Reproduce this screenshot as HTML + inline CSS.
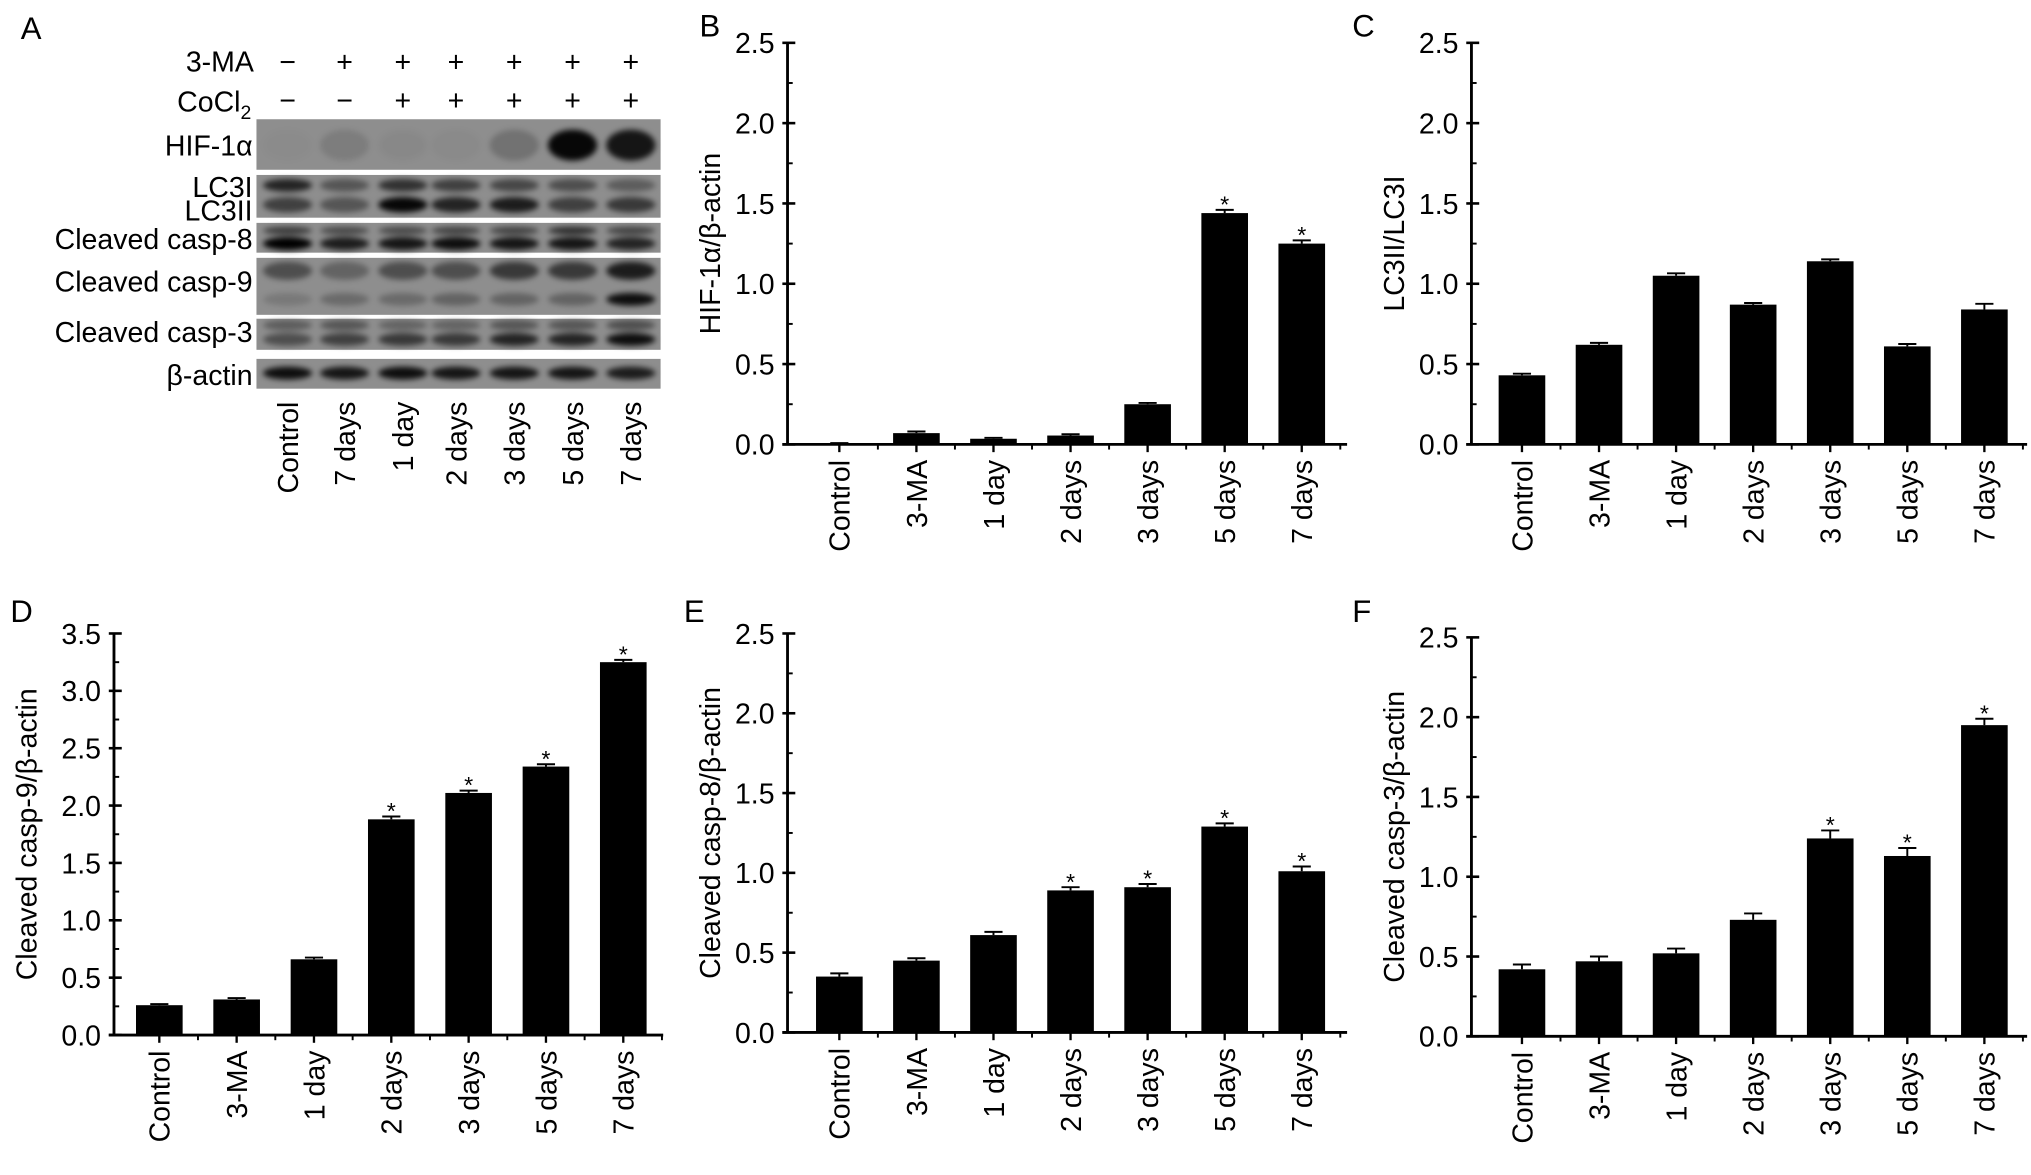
<!DOCTYPE html>
<html><head><meta charset="utf-8"><style>
html,body{margin:0;padding:0;background:#fff;}
svg{display:block;font-family:"Liberation Sans",Arial,sans-serif;}
</style></head><body>
<svg id="fig" width="2031" height="1175" viewBox="0 0 1568 907" xmlns="http://www.w3.org/2000/svg">
<defs><filter id="blur" x="-20%" y="-50%" width="140%" height="200%"><feGaussianBlur stdDeviation="2.2"/></filter></defs>
<g id="panelA"></g>
<g id="charts"></g>
</svg>
<script>
const categories = ["Control","3-MA","1 day","2 days","3 days","5 days","7 days"];
const valuesB = [0.005,0.07,0.035,0.055,0.25,1.44,1.25];
const errB = [0.003,0.01,0.006,0.008,0.008,0.02,0.02];
const starsB = [0,0,0,0,0,1,1];
const valuesC = [0.43,0.62,1.05,0.87,1.14,0.61,0.84];
const errC = [0.01,0.012,0.015,0.01,0.012,0.015,0.035];
const starsC = [0,0,0,0,0,0,0];
const valuesD = [0.26,0.31,0.66,1.88,2.11,2.34,3.25];
const errD = [0.01,0.012,0.015,0.025,0.02,0.02,0.02];
const starsD = [0,0,0,1,1,1,1];
const valuesE = [0.35,0.45,0.61,0.89,0.91,1.29,1.01];
const errE = [0.02,0.015,0.02,0.02,0.02,0.02,0.03];
const starsE = [0,0,0,1,1,1,1];
const valuesF = [0.42,0.47,0.52,0.73,1.24,1.13,1.95];
const errF = [0.03,0.03,0.03,0.04,0.05,0.05,0.04];
const starsF = [0,0,0,0,1,1,1];
const ticks25 = ["0.0","0.5","1.0","1.5","2.0","2.5"];
const ticks35 = ["0.0","0.5","1.0","1.5","2.0","2.5","3.0","3.5"];

const NS="http://www.w3.org/2000/svg";
function mk(tag,attrs,parent,txt){const e=document.createElementNS(NS,tag);for(const k in attrs)e.setAttribute(k,attrs[k]);if(txt!==undefined)e.textContent=txt;parent.appendChild(e);return e;}

const charts=document.getElementById('charts');
const panels=[
 {id:'b',letter:'B',lx:540,ly:28,ax:608,top:33,bot:343,right:1040,first:648,step:59.5,ymax:2.5,ticks:ticks25,vals:valuesB,err:errB,stars:starsB,title:"HIF-1α/β-actin",tx:556},
 {id:'c',letter:'C',lx:1044,ly:28,ax:1136,top:33,bot:343,right:1565,first:1175,step:59.5,ymax:2.5,ticks:ticks25,vals:valuesC,err:errC,stars:starsC,title:"LC3II/LC3I",tx:1084},
 {id:'d',letter:'D',lx:8,ly:480,ax:88,top:489,bot:799,right:512,first:123,step:59.7,ymax:3.5,ticks:ticks35,vals:valuesD,err:errD,stars:starsD,title:"Cleaved casp-9/β-actin",tx:28},
 {id:'e',letter:'E',lx:528,ly:480,ax:608,top:489,bot:797,right:1040,first:648,step:59.5,ymax:2.5,ticks:ticks25,vals:valuesE,err:errE,stars:starsE,title:"Cleaved casp-8/β-actin",tx:556},
 {id:'f',letter:'F',lx:1044,ly:480,ax:1136,top:492,bot:800,right:1565,first:1175,step:59.5,ymax:2.5,ticks:ticks25,vals:valuesF,err:errF,stars:starsF,title:"Cleaved casp-3/β-actin",tx:1084}
];
panels.forEach(p=>{
 const g=mk('g',{},charts);
 
 
 const y=v=>p.bot-(v/p.ymax)*(p.bot-p.top);
 const x=i=>p.first+i*p.step;
 const L=mk('text',{x:p.lx,y:p.ly,'font-size':24},g,p.letter);
 
 
 const ya=mk('line',{x1:p.ax,y1:p.top,x2:p.ax,y2:p.bot,stroke:'#000','stroke-width':2.2},g);
 
 
 const xa=mk('line',{x1:p.ax-4,y1:p.bot,x2:p.right,y2:p.bot,stroke:'#000','stroke-width':2.2},g);
 
 
 p.ticks.forEach(t=>{
  const v=parseFloat(t),yy=y(v);
  mk('line',{x1:p.ax-4,y1:yy,x2:p.ax+6,y2:yy,stroke:'#000','stroke-width':2},g);
  if(v+0.25<=p.ymax) mk('line',{x1:p.ax,y1:y(v+0.25),x2:p.ax+4,y2:y(v+0.25),stroke:'#000','stroke-width':1.5},g);
  const tl=mk('text',{x:p.ax-10,y:yy+8,'font-size':22,'text-anchor':'end'},g,t);
  
  
 });
 const yt=mk('text',{x:0,y:0,'font-size':22,'text-anchor':'middle',transform:`translate(${p.tx},${(p.top+p.bot)/2}) rotate(-90)`},g,p.title);
 
 
 p.vals.forEach((v,i)=>{
  const cx=x(i),w=36;
  mk('line',{x1:cx,y1:p.bot,x2:cx,y2:p.bot+6,stroke:'#000','stroke-width':1.8},g);
  mk('line',{x1:cx+p.step/2,y1:p.bot,x2:cx+p.step/2,y2:p.bot+4,stroke:'#000','stroke-width':1.5},g);
  const b=mk('rect',{x:cx-w/2,y:y(v),width:w,height:p.bot-y(v),fill:'#000'},g);
  
  
  const et=y(v+p.err[i]);
  mk('line',{x1:cx,y1:et,x2:cx,y2:y(v),stroke:'#000','stroke-width':1.5},g);
  mk('line',{x1:cx-7,y1:et,x2:cx+7,y2:et,stroke:'#000','stroke-width':1.5},g);
  if(p.stars[i]){const s=mk('text',{x:cx,y:et+2,'font-size':18,'text-anchor':'middle'},g,'*');
   
   }
  const xl=mk('text',{x:0,y:0,'font-size':22,'text-anchor':'end',transform:`translate(${cx+8},${p.bot+12}) rotate(-90)`},g,categories[i]);
  
  
 });
});

// Panel A western blot
const blotLanes=["Control","7 days","1 day","2 days","3 days","5 days","7 days"];
const laneMA=["−","+","+","+","+","+","+"];
const laneCo=["−","−","+","+","+","+","+"];
const hif=[0.02,0.12,0.04,0.03,0.2,0.95,0.85];
const lc3i=[0.75,0.4,0.65,0.55,0.5,0.45,0.35];
const lc3ii=[0.55,0.4,0.95,0.75,0.8,0.55,0.6];
const c8a=[0.6,0.5,0.5,0.55,0.55,0.7,0.55];
const c8b=[1.0,0.8,0.85,0.9,0.85,0.85,0.75];
const c9a=[0.45,0.3,0.45,0.45,0.6,0.6,0.8];
const c9b=[0.15,0.25,0.25,0.3,0.3,0.3,0.9];
const c3a=[0.35,0.4,0.3,0.3,0.4,0.4,0.45];
const c3b=[0.45,0.55,0.6,0.6,0.75,0.75,0.9];
const actin=[0.9,0.85,0.9,0.85,0.85,0.85,0.8];
const A=document.getElementById('panelA');
const lx=[222,266,311,352,397,442,487];
const t=mk('text',{x:16,y:30,'font-size':24},A,'A');


mk('text',{x:196,y:55,'font-size':22,'text-anchor':'end'},A,'3-MA');
const co=mk('text',{x:194,y:86,'font-size':22,'text-anchor':'end'},A,'CoCl');
mk('tspan',{'font-size':15,dy:6},co,'2');
lx.forEach((xx,i)=>{mk('text',{x:xx,y:55,'font-size':22,'text-anchor':'middle'},A,laneMA[i]);mk('text',{x:xx,y:85,'font-size':22,'text-anchor':'middle'},A,laneCo[i]);
 const l=mk('text',{x:0,y:0,'font-size':22,'text-anchor':'end',transform:`translate(${xx+8},${310}) rotate(-90)`},A,blotLanes[i]);
 
 });
const rows=[
 {name:'HIF-1α',y0:92,y1:131,ly:120,bands:[[hif,112,12]]},
 {name:'LC3I',y0:135,y1:168,ly:152,bands:[[lc3i,143,5],[lc3ii,158,6]]},
 {name:'Cleaved casp-8',y0:172,y1:195,ly:192,bands:[[c8a,178,3],[c8b,188,5]]},
 {name:'Cleaved casp-9',y0:199,y1:243,ly:225,bands:[[c9a,209,7],[c9b,231,5]]},
 {name:'Cleaved casp-3',y0:246,y1:270,ly:264,bands:[[c3a,251,4],[c3b,262,5]]},
 {name:'β-actin',y0:277,y1:300,ly:297,bands:[[actin,288,5]]}
];
rows.forEach(r=>{
 const g=mk('g',{},A);
 
 
 mk('rect',{x:198,y:r.y0,width:312,height:r.y1-r.y0,fill:'#8e8e8e'},g);
 const bg=mk('g',{filter:'url(#blur)'},g);
 r.bands.forEach(([arr,cy,ry])=>arr.forEach((v,i)=>{
  mk('ellipse',{cx:lx[i],cy:cy,rx:19,ry:ry,fill:'#000',opacity:v},bg);}));
 mk('text',{x:195,y:r.ly,'font-size':22,'text-anchor':'end'},g,r.name);
 if(r.name==='LC3I') mk('text',{x:195,y:r.ly+18,'font-size':22,'text-anchor':'end'},g,'LC3II');
});
</script>
</body></html>
